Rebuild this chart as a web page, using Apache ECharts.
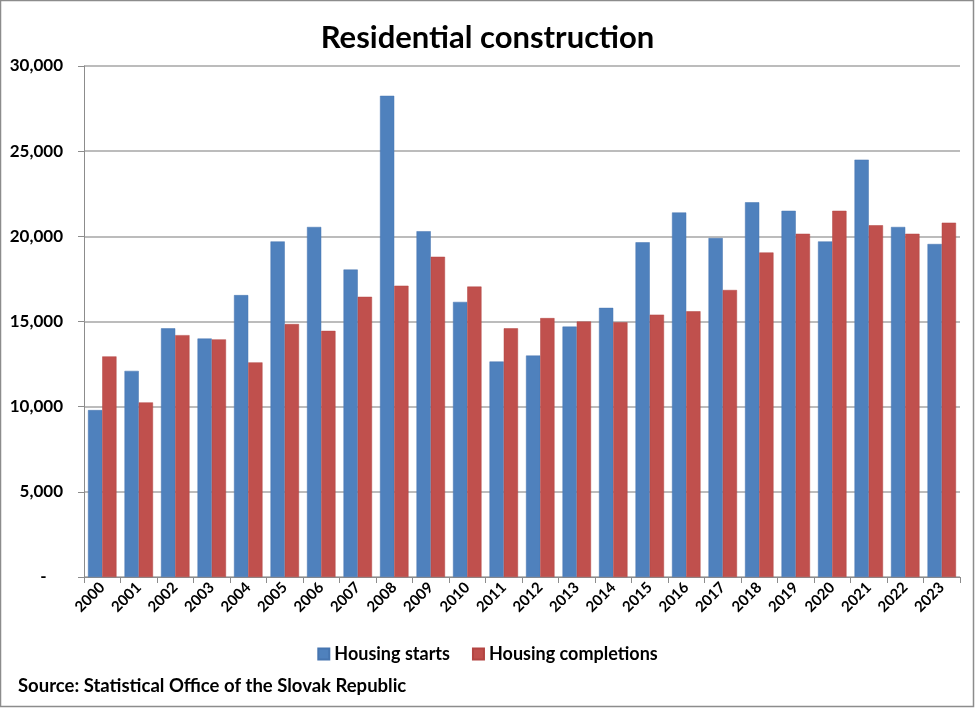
<!DOCTYPE html>
<html><head><meta charset="utf-8">
<script src="https://cdn.jsdelivr.net/npm/echarts@6/dist/echarts.min.js"></script>
<style>html,body{margin:0;padding:0;background:#fff}#c{width:975px;height:708px}</style>
</head><body><div id="c"></div>
<script>
const years = ['2000','2001','2002','2003','2004','2005','2006','2007','2008','2009','2010','2011','2012','2013','2014','2015','2016','2017','2018','2019','2020','2021','2022','2023'];
const housingStarts = [9800,12100,14600,14000,16550,19700,20550,18050,28250,20300,16150,12650,13000,14700,15800,19650,21400,19900,22000,21500,19700,24500,20550,19550];
const housingCompletions = [12950,10250,14200,13950,12600,14850,14450,16450,17100,18800,17050,14600,15200,15000,14950,15400,15600,16850,19050,20150,21500,20650,20150,20800];
const yTicks = {min:0, max:30000, interval:5000};

const chart = echarts.init(document.getElementById('c'));
const F = 'Lato, "Open Sans", sans-serif';
chart.setOption({
  animation:false,
  backgroundColor:'#fff',
  title:{text:'Residential construction', left:'center', top:17,
    textStyle:{fontFamily:F, fontSize:31, fontWeight:'bold', color:'#000'}},
  grid:{left:84, right:15, top:66, bottom:131, containLabel:false},
  legend:{bottom:40, left:'center', itemWidth:11, itemHeight:11, itemGap:22, icon:'rect',
    textStyle:{fontFamily:F, fontSize:18, fontWeight:'bold', color:'#000'}},
  xAxis:{type:'category', data:years,
    axisLine:{lineStyle:{color:'#8c8c8c', width:1}},
    axisTick:{show:true, alignWithLabel:false, length:6, lineStyle:{color:'#8c8c8c'}},
    axisLabel:{rotate:45, interval:0, margin:8, fontFamily:F, fontSize:15, fontWeight:'bold', color:'#000'}},
  yAxis:{type:'value', min:yTicks.min, max:yTicks.max, interval:yTicks.interval,
    axisLine:{show:true, lineStyle:{color:'#8c8c8c'}},
    axisTick:{show:true, length:6, lineStyle:{color:'#8c8c8c'}},
    splitLine:{lineStyle:{color:'#a6a6a6', width:1.5}},
    axisLabel:{margin:21, fontFamily:F, fontSize:17, fontWeight:'bold', color:'#000',
      formatter:v => v===0 ? '-    ' : v.toLocaleString('en-US')}},
  series:[
    {name:'Housing starts', type:'bar', data:housingStarts, barGap:'0%', barCategoryGap:'22%',
      itemStyle:{color:'#4F81BD', borderColor:'#4675b0', borderWidth:0.5}},
    {name:'Housing completions', type:'bar', data:housingCompletions, barGap:'0%', barCategoryGap:'22%',
      itemStyle:{color:'#C0504D', borderColor:'#b34542', borderWidth:0.5}}
  ],
  graphic:[
    {type:'text', left:18, top:677, style:{text:'Source: Statistical Office of the Slovak Republic',
      font:'bold 18.5px '+F, fill:'#000'}},
    {type:'rect', shape:{x:0.5, y:0.5, width:973, height:706}, style:{fill:'none', stroke:'#8c8c8c', lineWidth:1.5}, silent:true}
  ]
});
</script></body></html>
